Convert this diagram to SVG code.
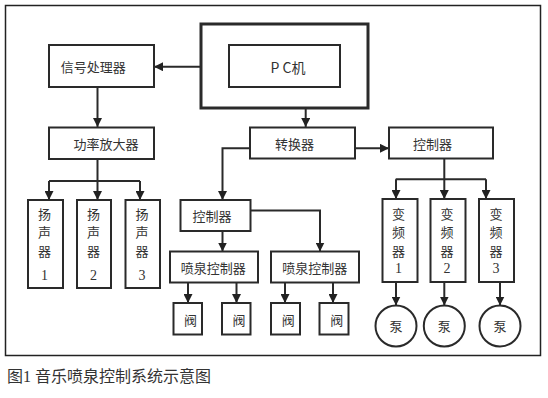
<svg xmlns="http://www.w3.org/2000/svg" width="548" height="398" viewBox="0 0 548 398">
<defs>
<marker id="ah" markerUnits="userSpaceOnUse" markerWidth="9" markerHeight="9" refX="9" refY="4.5" orient="auto">
<path d="M0,0 L9,4.5 L0,9 z" fill="#222"/>
</marker>
<style>
.box{fill:#fff;stroke:#2a2a2a;stroke-width:2}
.thick{fill:#fff;stroke:#2a2a2a;stroke-width:3}
.lbl{font-family:"Noto Sans CJK SC",sans-serif;font-size:13px;fill:#333;text-anchor:middle;dominant-baseline:central}
.num{font-family:"Liberation Serif",serif;font-size:14px;fill:#333;text-anchor:middle;dominant-baseline:central}
.con{fill:none;stroke:#2a2a2a;stroke-width:2}
.arr{fill:none;stroke:#2a2a2a;stroke-width:2;marker-end:url(#ah)}
</style>
</defs>
<rect width="548" height="398" fill="#fff"/>
<rect x="5.5" y="5.5" width="535" height="350" fill="none" stroke="#222" stroke-width="1.5"/>

<g id="connectors">
<path class="arr" d="M201,66.7 H154"/>
<path class="arr" d="M97.5,87 V127"/>
<path class="con" d="M97.5,159 V181 M49,181 H140"/>
<path class="arr" d="M49,181 V200"/>
<path class="arr" d="M97.5,181 V200"/>
<path class="arr" d="M140,181 V200"/>
<path class="arr" d="M305.7,108 V127"/>
<path class="arr" d="M355,148.3 H389"/>
<path class="arr" d="M250,148.3 H222.5 V200"/>
<path class="arr" d="M222.5,231 V251.5"/>
<path class="arr" d="M250.5,210.5 H320 V251.5"/>
<path class="arr" d="M188,282.5 V303"/>
<path class="arr" d="M236.5,282.5 V303"/>
<path class="arr" d="M285,282.5 V303"/>
<path class="arr" d="M333,282.5 V303"/>
<path class="con" d="M444.3,158.5 V179.3 M395.7,179.3 H486"/>
<path class="arr" d="M396,179.3 V199"/>
<path class="arr" d="M444.3,179.3 V199"/>
<path class="arr" d="M486,179.3 V199"/>
<path class="arr" d="M396,282 V305.5"/>
<path class="arr" d="M444.3,282 V305.5"/>
<path class="arr" d="M500,282 V305.5"/>
</g>

<g id="sigproc"><rect class="box" x="49" y="45" width="105" height="42"/><text class="lbl" x="93.3" y="66.5">信号处理器</text></g>
<g id="pc"><rect class="thick" x="201" y="24" width="167" height="84"/><rect class="box" x="229" y="45" width="111" height="42"/><text class="lbl" x="288" y="66.5" style="font-size:14px">P C机</text></g>
<g id="amp"><rect class="box" x="49" y="127.5" width="105" height="31.5"/><text class="lbl" x="106" y="143.3">功率放大器</text></g>
<g id="spk1"><rect class="box" x="28" y="200" width="35" height="88"/><text class="lbl" x="44.5" y="213">扬</text><text class="lbl" x="44.5" y="231.5">声</text><text class="lbl" x="44.5" y="250">器</text><text class="num" x="44.5" y="275">1</text></g>
<g id="spk2"><rect class="box" x="77" y="200" width="34" height="88"/><text class="lbl" x="93.5" y="213">扬</text><text class="lbl" x="93.5" y="231.5">声</text><text class="lbl" x="93.5" y="250">器</text><text class="num" x="93.5" y="275">2</text></g>
<g id="spk3"><rect class="box" x="125.5" y="200" width="34.5" height="88"/><text class="lbl" x="142" y="213">扬</text><text class="lbl" x="142" y="231.5">声</text><text class="lbl" x="142" y="250">器</text><text class="num" x="142" y="275">3</text></g>
<g id="converter"><rect class="box" x="250" y="127.5" width="105" height="31"/><text class="lbl" x="294.5" y="143.3">转换器</text></g>
<g id="ctrlR"><rect class="box" x="389" y="127.5" width="104" height="31"/><text class="lbl" x="432.5" y="143">控制器</text></g>
<g id="ctrlM"><rect class="box" x="180.5" y="200" width="70" height="31"/><text class="lbl" x="212" y="215.7">控制器</text></g>
<g id="fc1"><rect class="box" x="170" y="251.5" width="88" height="31"/><text class="lbl" x="213.3" y="267">喷泉控制器</text></g>
<g id="fc2"><rect class="box" x="271" y="251.5" width="88" height="31"/><text class="lbl" x="314.7" y="267">喷泉控制器</text></g>
<g id="v1"><rect class="box" x="173.5" y="303" width="28.5" height="31.5"/><text class="lbl" x="190.5" y="319">阀</text></g>
<g id="v2"><rect class="box" x="222" y="303" width="28.5" height="31.5"/><text class="lbl" x="239" y="319">阀</text></g>
<g id="v3"><rect class="box" x="271" y="303" width="29" height="31.5"/><text class="lbl" x="288.3" y="319">阀</text></g>
<g id="v4"><rect class="box" x="319.5" y="303" width="29" height="31.5"/><text class="lbl" x="336.7" y="319">阀</text></g>
<g id="inv1"><rect class="box" x="382.5" y="199" width="35" height="83"/><text class="lbl" x="398.5" y="213.3">变</text><text class="lbl" x="398.5" y="231.7">频</text><text class="lbl" x="398.5" y="250">器</text><text class="num" x="398.5" y="268.3">1</text></g>
<g id="inv2"><rect class="box" x="430.5" y="199" width="35" height="83"/><text class="lbl" x="447" y="213.3">变</text><text class="lbl" x="447" y="231.7">频</text><text class="lbl" x="447" y="250">器</text><text class="num" x="447" y="268.3">2</text></g>
<g id="inv3"><rect class="box" x="479" y="199" width="35" height="83"/><text class="lbl" x="496" y="213.3">变</text><text class="lbl" x="496" y="231.7">频</text><text class="lbl" x="496" y="250">器</text><text class="num" x="496" y="268.3">3</text></g>
<g id="pump1"><circle class="box" cx="396" cy="326" r="20.5"/><text class="lbl" x="396" y="325">泵</text></g>
<g id="pump2"><circle class="box" cx="444.3" cy="326" r="20.5"/><text class="lbl" x="444.3" y="325">泵</text></g>
<g id="pump3"><circle class="box" cx="500" cy="326" r="20.5"/><text class="lbl" x="500" y="325">泵</text></g>

<text x="7" y="382" style="font-family:'Liberation Serif','Noto Sans CJK SC',serif;font-size:16px;fill:#333">图1 音乐喷泉控制系统示意图</text>
</svg>
